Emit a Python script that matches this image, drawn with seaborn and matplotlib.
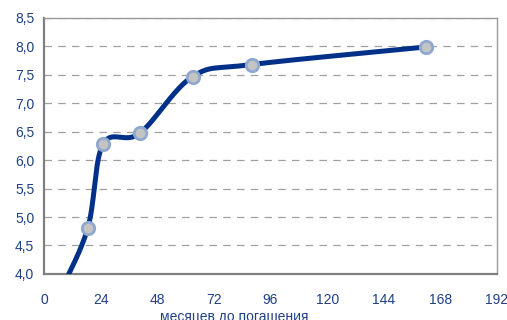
import numpy as np
import pandas as pd
import matplotlib
matplotlib.use("Agg")
import matplotlib.pyplot as plt
import seaborn as sns

# Yield curve: months to maturity vs yield, %
months = [6, 18.5, 25, 40.5, 63, 88, 162]
yields = [3.6, 4.80, 6.28, 6.47, 7.47, 7.68, 7.99]
shown = [False, True, True, True, True, True, True]

x_ticks = [0, 24, 48, 72, 96, 120, 144, 168, 192]
y_ticks = [4.0, 4.5, 5.0, 5.5, 6.0, 6.5, 7.0, 7.5, 8.0, 8.5]
x_label = "месяцев до погашения"

sns.set_theme(style="white")
plt.rcParams["font.family"] = ["Liberation Sans", "DejaVu Sans"]

LINE = "#003087"
TEXT = "#1F3F86"
GRID = "#A0A0A0"

fig = plt.figure(figsize=(5.07, 3.20), dpi=100)
ax = fig.add_axes([0.0868, 0.144, 0.8935, 0.800])

x0, x1, y0, y1 = 0, 192, 4.0, 8.5


def smooth(xs, ys, n=40):
    """Catmull-Rom spline through the points, built in axis-normalised space."""
    px = (np.asarray(xs, float) - x0) / (x1 - x0) * 453
    py = (np.asarray(ys, float) - y0) / (y1 - y0) * 256
    P = np.column_stack([px, py])
    P = np.vstack([P[0] - (P[1] - P[0]), P, P[-1] + (P[-1] - P[-2])])
    out = []
    for i in range(1, len(P) - 2):
        p0, p1, p2, p3 = P[i - 1], P[i], P[i + 1], P[i + 2]
        c1 = p1 + (p2 - p0) / 6
        c2 = p2 - (p3 - p1) / 6
        t = np.linspace(0, 1, n)[:, None]
        seg = ((1 - t) ** 3) * p1 + 3 * ((1 - t) ** 2) * t * c1 + 3 * (1 - t) * t ** 2 * c2 + t ** 3 * p2
        out.append(seg if i == 1 else seg[1:])
    S = np.vstack(out)
    return S[:, 0] / 453 * (x1 - x0) + x0, S[:, 1] / 256 * (y1 - y0) + y0


sx, sy = smooth(months, yields)
curve = pd.DataFrame({"months": sx, "yield": sy})
pts = pd.DataFrame({"months": months, "yield": yields, "shown": shown})
pts = pts[pts["shown"]]

for y in y_ticks[1:]:
    ax.axhline(y, color=GRID, lw=0.9, ls=(0, (6, 5)), zorder=0)

sns.lineplot(data=curve, x="months", y="yield", sort=False, color=LINE,
             lw=3.6, ax=ax, zorder=3, estimator=None)
sns.scatterplot(data=pts, x="months", y="yield", s=80, color="#C4C4C4",
                edgecolor="#8FA8D0", linewidth=2.0, ax=ax, zorder=4)

ax.set_xlim(x0, x1)
ax.set_ylim(y0, y1)
ax.set_xticks(x_ticks)
ax.set_yticks(y_ticks)
ax.set_xticklabels([str(v) for v in x_ticks])
ax.set_yticklabels([f"{v:.1f}".replace(".", ",") for v in y_ticks])
ax.tick_params(axis="both", labelsize=10, colors="#7F7F7F", labelcolor=TEXT,
               direction="out", length=4, width=1.2)
ax.tick_params(axis="x", pad=10, direction="inout", length=8)
ax.tick_params(axis="y", pad=3)
ax.set_xlabel(x_label, color=TEXT, fontsize=10, labelpad=0)
ax.xaxis.set_label_coords(0.42, -0.14)
ax.set_ylabel("")

for side in ["left", "bottom"]:
    ax.spines[side].set_color("#808080")
    ax.spines[side].set_linewidth(1.6)
for side in ["right", "top"]:
    ax.spines[side].set_color("#9A9A9A")
    ax.spines[side].set_linewidth(1.0)

fig.savefig("out.png", dpi=100)
